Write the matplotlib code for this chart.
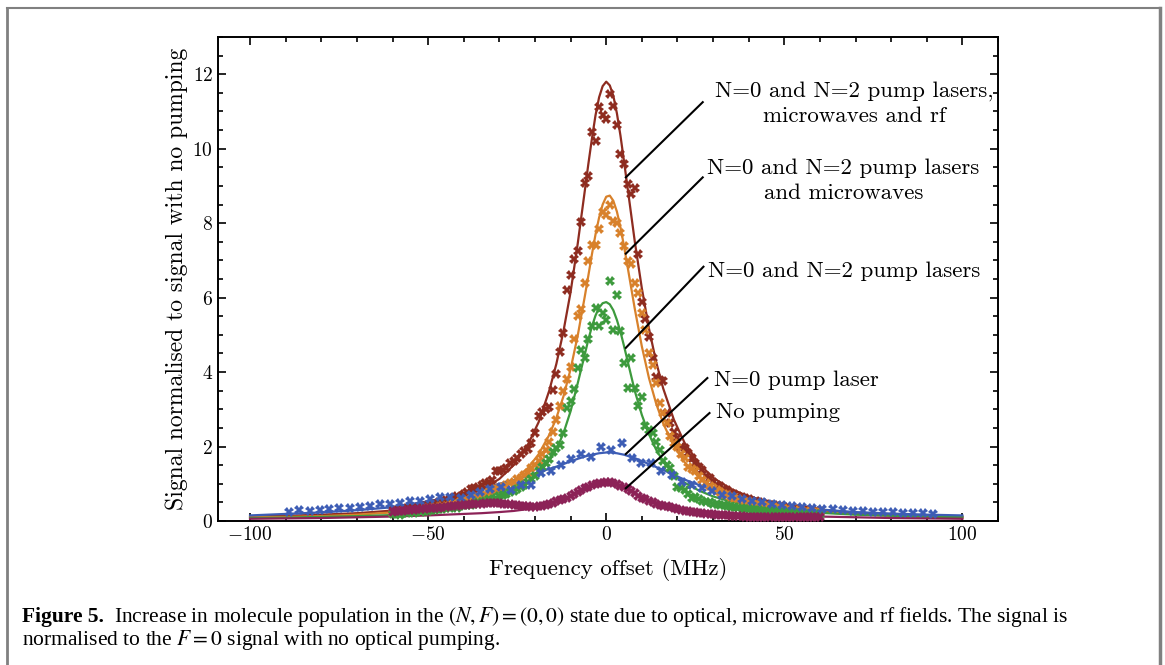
import numpy as np
import matplotlib
matplotlib.use("Agg")
import matplotlib.pyplot as plt
from matplotlib.lines import Line2D
from matplotlib.ticker import MultipleLocator

# frequency scan used for the four dense data sets (MHz)
scan = np.arange(-60, 61, 1.0)

# N=0 pump laser data set was taken on a coarser grid
blue_freq = [-89.0, -86.2, -83.3, -80.5, -77.7, -74.9, -72.0, -69.2, -66.4, -63.6,
             -60.7, -57.9, -55.1, -52.2, -49.4, -46.6, -43.8, -40.9, -38.1, -35.3,
             -32.5, -29.6, -26.8, -24.0, -21.2, -18.3, -15.5, -12.7, -9.9, -7.0,
             -4.2, -1.4, 1.4, 4.3, 7.1, 9.9, 12.7, 15.5, 18.4, 21.2,
             24.0, 26.8, 29.7, 32.5, 35.3, 38.1, 41.0, 43.8, 46.6, 49.4,
             52.3, 55.1, 57.9, 60.7, 63.6, 66.4, 69.2, 72.0, 74.9, 77.7,
             80.5, 83.3, 86.2, 89.0, 91.8]

rf_data = [0.30, 0.27, 0.33, 0.31, 0.35, 0.33, 0.38, 0.36, 0.41, 0.39,
           0.44, 0.47, 0.45, 0.52, 0.50, 0.56, 0.58, 0.62, 0.66, 0.64,
           0.72, 0.78, 0.85, 0.88, 0.92, 0.97, 1.01, 1.04, 1.10, 1.35,
           1.33, 1.37, 1.42, 1.55, 1.60, 1.69, 1.80, 1.88, 1.93, 2.09,
           2.36, 2.83, 2.92, 3.00, 3.06, 3.52, 3.95, 4.55, 5.05, 6.21,
           6.62, 7.04, 7.25, 8.04, 9.07, 9.26, 10.45, 10.22, 11.12, 10.90,
           10.80, 11.46, 11.15, 10.63, 9.85, 9.59, 9.06, 8.79, 8.95, 7.18,
           5.87, 5.43, 4.95, 4.38, 3.86, 3.80, 3.75, 2.90, 2.62, 2.40,
           2.22, 2.00, 1.95, 1.83, 1.70, 1.56, 1.45, 1.36, 1.22, 1.15,
           1.05, 0.98, 0.93, 0.86, 0.82, 0.76, 0.72, 0.68, 0.64, 0.62,
           0.58, 0.55, 0.53, 0.50, 0.48, 0.46, 0.44, 0.42, 0.41, 0.39,
           0.37, 0.36, 0.34, 0.33, 0.32, 0.31, 0.30, 0.29, 0.28, 0.27,
           0.27]

mw_data = [0.22, 0.25, 0.21, 0.26, 0.24, 0.28, 0.26, 0.30, 0.28, 0.32,
           0.34, 0.31, 0.37, 0.35, 0.40, 0.38, 0.43, 0.46, 0.44, 0.50,
           0.53, 0.56, 0.60, 0.58, 0.64, 0.68, 0.72, 0.79, 0.80, 0.86,
           0.88, 0.92, 0.97, 1.01, 1.06, 1.12, 1.15, 1.24, 1.30, 1.42,
           1.50, 1.60, 1.80, 1.91, 2.13, 2.38, 2.72, 3.08, 3.48, 3.81,
           4.13, 4.89, 5.50, 5.70, 6.40, 6.98, 7.42, 7.42, 7.83, 8.29,
           8.22, 8.48, 8.07, 8.01, 7.74, 7.38, 6.98, 6.89, 6.40, 6.13,
           5.59, 5.14, 4.51, 4.20, 3.70, 3.17, 2.90, 2.63, 2.27, 2.10,
           2.00, 1.80, 1.69, 1.46, 1.40, 1.33, 1.20, 1.10, 1.02, 0.95,
           0.88, 0.82, 0.78, 0.72, 0.70, 0.65, 0.62, 0.58, 0.56, 0.52,
           0.50, 0.48, 0.45, 0.44, 0.42, 0.40, 0.38, 0.37, 0.35, 0.34,
           0.33, 0.31, 0.30, 0.29, 0.28, 0.27, 0.26, 0.25, 0.24, 0.24,
           0.23]

two_data = [0.18, 0.20, 0.17, 0.22, 0.21, 0.24, 0.22, 0.26, 0.25, 0.28,
            0.27, 0.30, 0.29, 0.32, 0.31, 0.34, 0.35, 0.37, 0.36, 0.40,
            0.42, 0.44, 0.43, 0.47, 0.50, 0.52, 0.55, 0.58, 0.57, 0.63,
            0.66, 0.70, 0.73, 0.78, 0.80, 0.86, 0.92, 0.97, 1.05, 1.12,
            1.22, 1.35, 1.46, 1.55, 1.66, 1.86, 1.95, 2.04, 2.36, 3.03,
            3.21, 3.55, 4.11, 4.60, 4.38, 4.90, 5.23, 5.72, 5.23, 5.60,
            5.41, 6.44, 5.14, 6.08, 5.09, 4.24, 3.57, 4.38, 3.57, 3.10,
            3.34, 2.54, 2.45, 2.36, 2.13, 1.91, 1.60, 1.50, 1.42, 1.20,
            0.92, 0.88, 0.83, 0.72, 0.61, 0.64, 0.58, 0.55, 0.50, 0.52,
            0.47, 0.45, 0.43, 0.42, 0.40, 0.38, 0.37, 0.36, 0.34, 0.33,
            0.32, 0.31, 0.30, 0.29, 0.28, 0.27, 0.27, 0.26, 0.25, 0.24,
            0.24, 0.23, 0.23, 0.22, 0.21, 0.21, 0.20, 0.20, 0.19, 0.19,
            0.18]

one_data = [0.25, 0.30, 0.26, 0.30, 0.31, 0.34, 0.34, 0.37, 0.40, 0.45,
            0.45, 0.49, 0.54, 0.54, 0.59, 0.65, 0.65, 0.61, 0.70, 0.79,
            0.85, 0.92, 0.83, 0.96, 0.97, 1.30, 1.35, 1.51, 1.66, 1.80,
            1.73, 2.00, 1.91, 2.09, 1.70, 1.55, 1.57, 1.35, 1.24, 1.05,
            0.98, 0.88, 0.80, 0.70, 0.66, 0.58, 0.55, 0.50, 0.46, 0.44,
            0.40, 0.38, 0.36, 0.33, 0.31, 0.29, 0.27, 0.27, 0.25, 0.24,
            0.23, 0.22, 0.21, 0.21, 0.20]

none_data = [0.25, 0.27, 0.26, 0.28, 0.29, 0.30, 0.30, 0.31, 0.32, 0.33,
             0.34, 0.34, 0.35, 0.36, 0.37, 0.38, 0.39, 0.40, 0.40, 0.42,
             0.43, 0.44, 0.45, 0.46, 0.46, 0.47, 0.48, 0.48, 0.49, 0.48,
             0.48, 0.47, 0.46, 0.45, 0.44, 0.43, 0.41, 0.40, 0.39, 0.38,
             0.38, 0.39, 0.40, 0.42, 0.45, 0.49, 0.53, 0.57, 0.60, 0.63,
             0.67, 0.72, 0.77, 0.82, 0.88, 0.92, 0.96, 0.99, 1.01, 1.03,
             1.05, 1.04, 1.02, 0.99, 0.95, 0.90, 0.85, 0.80, 0.74, 0.68,
             0.63, 0.58, 0.54, 0.50, 0.47, 0.44, 0.41, 0.39, 0.37, 0.34,
             0.32, 0.30, 0.28, 0.26, 0.25, 0.23, 0.22, 0.21, 0.20, 0.19,
             0.18, 0.17, 0.16, 0.15, 0.15, 0.14, 0.14, 0.13, 0.13, 0.12,
             0.12, 0.12, 0.11, 0.11, 0.11, 0.11, 0.10, 0.10, 0.10, 0.10,
             0.10, 0.10, 0.10, 0.10, 0.10, 0.10, 0.10, 0.10, 0.10, 0.10,
             0.10]

fit_freq = [-100, -90, -80, -70, -60, -50, -45, -40, -35, -30,
            -26, -22, -19, -16, -14, -12, -10, -8, -6, -5,
            -4, -3, -2, -1, 0, 1, 2, 3, 4, 5,
            6, 8, 10, 12, 14, 16, 19, 22, 26, 30,
            35, 40, 45, 50, 60, 70, 80, 90, 100]

rf_fit = [0.12, 0.14, 0.17, 0.21, 0.28, 0.42, 0.52, 0.65, 0.84, 1.13,
          1.50, 2.05, 2.65, 3.50, 4.22, 5.10, 6.15, 7.45, 8.88, 9.60,
          10.28, 10.90, 11.38, 11.68, 11.80, 11.70, 11.42, 10.95, 10.35, 9.66,
          8.95, 7.52, 6.25, 5.17, 4.28, 3.56, 2.72, 2.10, 1.55, 1.16,
          0.86, 0.66, 0.53, 0.43, 0.29, 0.21, 0.17, 0.14, 0.12]

mw_fit = [0.10, 0.11, 0.13, 0.17, 0.23, 0.33, 0.40, 0.50, 0.64, 0.84,
          1.08, 1.42, 1.79, 2.31, 2.77, 3.35, 4.08, 4.98, 6.04, 6.60,
          7.17, 7.70, 8.15, 8.50, 8.71, 8.74, 8.60, 8.31, 7.89, 7.38,
          6.83, 5.71, 4.69, 3.84, 3.16, 2.62, 2.01, 1.58, 1.18, 0.91,
          0.69, 0.53, 0.42, 0.35, 0.24, 0.18, 0.14, 0.11, 0.09]

two_fit = [0.08, 0.09, 0.11, 0.13, 0.16, 0.24, 0.28, 0.36, 0.47, 0.62,
           0.78, 1.02, 1.27, 1.62, 1.92, 2.36, 2.95, 3.70, 4.48, 4.88,
           5.23, 5.52, 5.73, 5.85, 5.88, 5.82, 5.66, 5.40, 5.08, 4.70,
           4.30, 3.50, 2.85, 2.33, 1.92, 1.60, 1.26, 1.03, 0.82, 0.66,
           0.52, 0.42, 0.35, 0.29, 0.22, 0.17, 0.14, 0.12, 0.10]

one_fit = [0.15, 0.19, 0.23, 0.29, 0.37, 0.53, 0.62, 0.74, 0.87, 1.00,
           1.10, 1.22, 1.31, 1.40, 1.46, 1.53, 1.60, 1.67, 1.73, 1.76,
           1.78, 1.80, 1.82, 1.83, 1.84, 1.84, 1.83, 1.82, 1.80, 1.78,
           1.75, 1.69, 1.61, 1.53, 1.45, 1.37, 1.24, 1.11, 0.97, 0.84,
           0.70, 0.58, 0.49, 0.41, 0.31, 0.24, 0.20, 0.17, 0.15]

none_fit = [0.06, 0.07, 0.08, 0.10, 0.12, 0.15, 0.17, 0.19, 0.21, 0.24,
            0.27, 0.32, 0.37, 0.44, 0.50, 0.57, 0.65, 0.74, 0.83, 0.87,
            0.91, 0.95, 0.98, 1.00, 1.01, 1.00, 0.98, 0.95, 0.91, 0.87,
            0.83, 0.74, 0.65, 0.57, 0.50, 0.44, 0.37, 0.32, 0.27, 0.24,
            0.21, 0.19, 0.17, 0.15, 0.12, 0.10, 0.08, 0.07, 0.06]

labels = ["N=0 and N=2 pump lasers,\nmicrowaves and rf",
          "N=0 and N=2 pump lasers\nand microwaves",
          "N=0 and N=2 pump lasers",
          "N=0 pump laser",
          "No pumping"]

colors = ["#8e2c20", "#d8812b", "#3d9a3d", "#3d5db5", "#8c2257"]

# leader lines: (start on curve) -> (end near label), and label anchors
leader_start = [(5.5, 9.23), (5.5, 7.18), (5.5, 4.65), (5.5, 1.80), (5.5, 0.88)]
leader_end = [(27.1, 11.25), (27.1, 9.23), (27.3, 6.83), (28.4, 3.84), (29.0, 2.90)]
label_pos = [(69.6, 11.22), (66.6, 9.13), (28.5, 6.70), (30.2, 3.79), (30.7, 2.93)]
label_ha = ["center", "center", "left", "left", "left"]

plt.rcParams["font.family"] = "cmr10"
plt.rcParams["mathtext.fontset"] = "cm"
plt.rcParams["axes.formatter.use_mathtext"] = True

W, H = 1165, 665
fig = plt.figure(figsize=(W / 100, H / 100), dpi=100)
ax = fig.add_axes([218 / W, 1 - 521 / H, 780 / W, 484 / H])

series = [(scan, rf_data, rf_fit), (scan, mw_data, mw_fit), (scan, two_data, two_fit),
          (blue_freq, one_data, one_fit), (scan, none_data, none_fit)]
for (fx, fy, fit), c in zip(series, colors):
    ax.plot(fit_freq, fit, color=c, lw=1.6, zorder=2)
    ax.plot(fx, fy, ls="none", marker="X", ms=6.5, mew=0, color=c, zorder=3)

for s, e, txt, p, ha in zip(leader_start, leader_end, labels, label_pos, label_ha):
    ax.plot([s[0], e[0]], [s[1], e[1]], color="black", lw=1.5, zorder=4, clip_on=False)
    ax.text(p[0], p[1], txt, ha=ha, va="center", multialignment="center",
            fontsize=16.5, linespacing=1.35)

ax.set_xlim(-109, 110)
ax.set_ylim(0, 13)
ax.xaxis.set_major_locator(MultipleLocator(50))
ax.xaxis.set_minor_locator(MultipleLocator(10))
ax.yaxis.set_major_locator(MultipleLocator(2))
ax.yaxis.set_minor_locator(MultipleLocator(0.5))
ax.tick_params(which="both", direction="in", top=True, right=True, width=1.2,
               labelsize=14)
ax.tick_params(which="major", length=6)
ax.tick_params(which="minor", length=3.5)
for sp in ax.spines.values():
    sp.set_linewidth(1.4)

ax.set_xlabel("Frequency offset (MHz)", fontsize=16.5, labelpad=10)
ax.set_ylabel("Signal normalised to signal with no pumping", fontsize=17, labelpad=3)

# page frame around the figure
grey = "#808080"
fig.add_artist(Line2D([7 / W, 1160 / W], [1 - 8 / H, 1 - 8 / H], color=grey, lw=1.5))
fig.add_artist(Line2D([7 / W, 7 / W], [0, 1 - 8 / H], color=grey, lw=2))
fig.add_artist(Line2D([1160 / W, 1160 / W], [0, 1 - 8 / H], color=grey, lw=2.5))

# caption
fig.canvas.draw()
rend = fig.canvas.get_renderer()
cap_font = dict(family="Liberation Serif", fontsize=15.5, va="baseline", math_fontfamily="stix")
t1 = fig.text(22 / W, 1 - 622 / H, "Figure 5.", fontweight="bold", **cap_font)
bb = t1.get_window_extent(rend)
fig.text(bb.x1 / W + 10 / W, 1 - 622 / H,
         "Increase in molecule population in the $(N,F)=(0,0)$ state due to optical, "
         "microwave and rf fields. The signal is", **cap_font)
fig.text(22 / W, 1 - 645 / H,
         "normalised to the $F=0$ signal with no optical pumping.", **cap_font)

fig.savefig("out.png", dpi=100)
